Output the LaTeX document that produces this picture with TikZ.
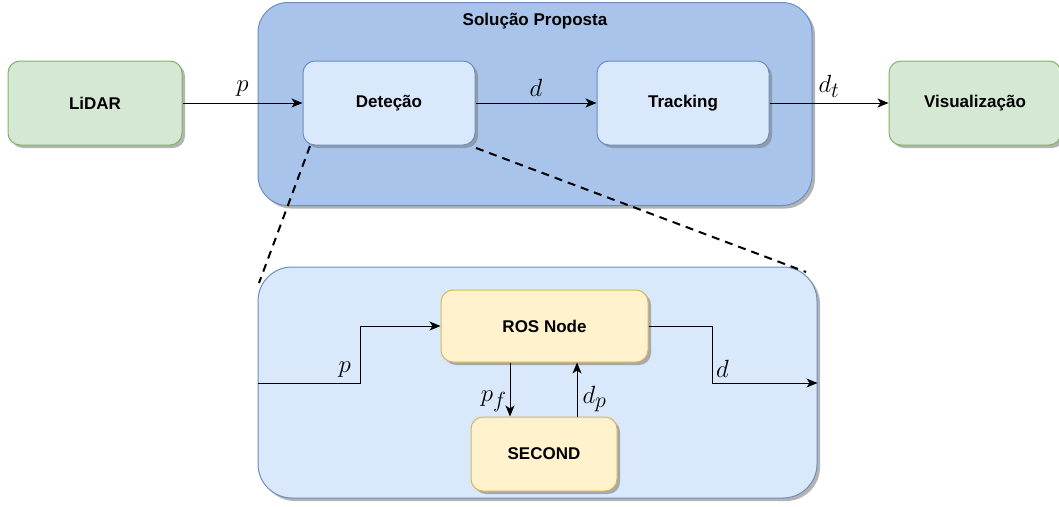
\documentclass[tikz,border=0pt]{standalone}
\usepackage{fontspec}
\setmainfont{Liberation Sans}
\usetikzlibrary{arrows.meta,shadows}
\definecolor{greenfill}{HTML}{D5E8D4}
\definecolor{greenline}{HTML}{82B366}
\definecolor{bluefill}{HTML}{A9C4EB}
\definecolor{lightblue}{HTML}{DAE8FC}
\definecolor{blueline}{HTML}{6C8EBF}
\definecolor{yellowfill}{HTML}{FFF2CC}
\definecolor{yellowline}{HTML}{D6B656}
% large subscript, close to the size of its base letter
\newcommand{\sbx}[1]{{\scalebox{0.88}{$#1$}}}
\tikzset{
  shade3/.style={drop shadow={shadow xshift=3pt,shadow yshift=-3pt,fill=black!50,opacity=0.6}},
  blockbox/.style={draw, line width=1pt, rounded corners=12pt, shade3,
    font=\fontsize{17}{19}\selectfont\bfseries, align=center, inner sep=0pt},
  greenbox/.style={blockbox, fill=greenfill, draw=greenline},
  bluebox/.style={blockbox, fill=lightblue, draw=blueline},
  yellowbox/.style={blockbox, fill=yellowfill, draw=yellowline},
  flow/.style={line width=1pt, -{Stealth[length=11pt,width=9pt,inset=3pt]}},
  zoomline/.style={line width=2pt, dash pattern=on 8pt off 6pt},
  lbl/.style={font=\fontsize{24.88}{28}\selectfont, inner sep=0pt}
}
\begin{document}
\begin{tikzpicture}[x=1pt,y=-1pt]
\useasboundingbox (0,0) rectangle (1059,506);

% containers
\node[draw=blueline, fill=bluefill, line width=1pt, rounded corners=30pt, shade3,
  minimum width=554pt, minimum height=203pt, inner sep=0pt] (sol) at (535,104) {};
\node[font=\fontsize{17}{19}\selectfont\bfseries] (soltitle) at (535,21) {Solução Proposta};

\node[draw=blueline, fill=lightblue, line width=1pt, rounded corners=34pt, shade3,
  minimum width=559pt, minimum height=231pt, inner sep=0pt] (det) at (537.5,382.5) {};

% top row
\node[greenbox, minimum width=174pt, minimum height=84pt] (lidar) at (95,103) {LiDAR};
\node[bluebox, minimum width=172pt, minimum height=84pt] (detec) at (389,103) {Deteção};
\node[bluebox, minimum width=172pt, minimum height=84pt] (track) at (683,103) {Tracking};
\node[greenbox, minimum width=172pt, minimum height=84pt] (vis) at (975,103) {Visualização};

\draw[flow] (lidar) -- (detec) node[lbl, pos=0.5, above=6pt] {$p$};
\draw[flow] (detec) -- (track) node[lbl, pos=0.5, above=6pt] {$d$};
\draw[flow] (track) -- (vis) node[lbl, pos=0.5, above=5pt] {$d_{\sbx{t}}$};

% zoom guides
\coordinate (zl) at (259,283);
\coordinate (zr) at (806,272);
\draw[zoomline] (310,146) -- (zl);
\draw[zoomline] (476,148) -- (zr);

% detection internals
\node[yellowbox, minimum width=207pt, minimum height=72pt] (ros) at (544.5,326) {ROS Node};
\node[yellowbox, minimum width=146pt, minimum height=74pt] (second) at (544,454) {SECOND};

\coordinate (inp) at (det.west |- 0,383);
\coordinate (outp) at (det.east |- 0,383);
\draw[flow] (inp) -- (360,383) node[lbl, pos=0.85, above=5pt] {$p$} -- (360,326) -- (ros.west);
\draw[flow] (ros.east) -- (712,326) -- (712,383) -- (outp) node[lbl, pos=0.1, above=5pt] {$d$};
\draw[flow] (ros.south -| 510,0) -- (second.north -| 510,0) node[lbl, pos=0.72, left=3pt] {$p_{\sbx{f}}$};
\draw[flow] (second.north -| 577,0) -- (ros.south -| 577,0) node[lbl, pos=0.33, right=5pt] {$d_{\sbx{p}}$};
\end{tikzpicture}
\end{document}
